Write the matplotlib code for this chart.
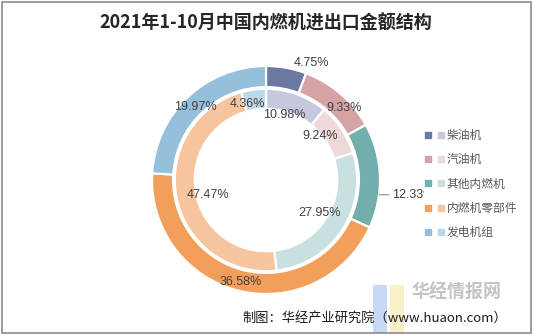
import matplotlib.pyplot as plt
from matplotlib.lines import Line2D
from matplotlib.legend_handler import HandlerTuple
from matplotlib.patches import Rectangle
import numpy as np

# data
categories = ['柴油机', '汽油机', '其他内燃机', '内燃机零部件', '发电机组']
outer_vals = [4.75, 9.33, 12.33, 36.58, 19.97]
inner_vals = [10.98, 9.24, 27.95, 47.47, 4.36]

outer_colors = ['#6c77a3', '#d6a3a5', '#72aeab', '#f19f5a', '#95c0dc']
inner_colors = ['#c6c9de', '#eed8da', '#c9e0e1', '#f6c49d', '#bcd7ea']

# label placement (radius as fraction of outer radius, angle nudge in degrees clockwise)
outer_lab_r = [1.10, 0.93, 1.11, 0.92, 0.89]
outer_lab_d = [10.7, 6.4, 8.9, 0, -1]
inner_lab_r = [0.59, 0.61, 0.55, 0.53, 0.69]
inner_lab_d = [-4.3, -5.3, -1.5, -3.7, -5.8]

W, H = 533, 335
fig = plt.figure(figsize=(W / 100, H / 100), dpi=100)
fig.patch.set_facecolor('white')

cx, cy, R = 266, 180, 114
side = 250
ax = fig.add_axes([(cx - side / 2) / W, 1 - (cy + side / 2) / H, side / W, side / H])

wedge_kw = dict(edgecolor='white', linewidth=1.6)
w_out, _ = ax.pie(outer_vals, radius=1.0, colors=outer_colors, startangle=90,
                  counterclock=False, wedgeprops=dict(width=0.185, **wedge_kw))
w_in, _ = ax.pie(inner_vals, radius=0.80, colors=inner_colors, startangle=90,
                 counterclock=False, wedgeprops=dict(width=0.175, **wedge_kw))

lim = side / 2 / R
ax.set_xlim(-lim, lim)
ax.set_ylim(-lim, lim)
ax.set_aspect('equal')
ax.axis('off')

lab_font = dict(family=['Liberation Sans', 'DejaVu Sans'], fontsize=9, color='#404040')


def polar(w, r, nudge):
    a = np.deg2rad((w.theta1 + w.theta2) / 2 - nudge)
    return r * np.cos(a), r * np.sin(a)


for i, w in enumerate(w_out):
    txt = f'{outer_vals[i]:.2f}%'
    x, y = polar(w, outer_lab_r[i], outer_lab_d[i])
    if i == 2:
        x0, y0 = polar(w, 1.0, outer_lab_d[i] + 0.7)
        ax.annotate(txt, xy=(x0, y0), xytext=(x, y), ha='left', va='center',
                    arrowprops=dict(arrowstyle='-', color='#8c8c8c', lw=0.8,
                                    shrinkA=0, shrinkB=0), **lab_font)
    else:
        ax.text(x, y, txt, ha='center', va='center', **lab_font)

for i, w in enumerate(w_in):
    x, y = polar(w, inner_lab_r[i], inner_lab_d[i])
    ax.text(x, y, f'{inner_vals[i]:.2f}%', ha='center', va='center', **lab_font)

# legend with dark + light squares
handles = [(Line2D([], [], marker='s', ls='', color=oc, ms=4.2),
            Line2D([], [], marker='s', ls='', color=ic, ms=4.2))
           for oc, ic in zip(outer_colors, inner_colors)]
leg = fig.legend(handles, categories, handler_map={tuple: HandlerTuple(ndivide=None, pad=0.9)},
                 loc='center left', bbox_to_anchor=(424 / W, 1 - 184 / H),
                 prop={'family': ['Noto Sans CJK SC', 'DejaVu Sans'], 'size': 8.5},
                 labelcolor='#595959', frameon=True, facecolor='white', edgecolor='none',
                 framealpha=1, handlelength=1.3, handletextpad=0.4, labelspacing=0.95,
                 borderpad=0.2, borderaxespad=0)

# title
fig.text(cx / W, 1 - 23 / H, '2021年1-10月中国内燃机进出口金额结构', ha='center', va='center',
         fontsize=13, fontweight='bold', color='#262626',
         family=['Noto Sans CJK SC', 'DejaVu Sans'])

# watermark + source
fig.add_artist(Rectangle((373 / W, 1 - 333 / H), 14 / W, 48 / H, transform=fig.transFigure,
                         color='#a9c6f0', alpha=0.65, lw=0))
fig.add_artist(Rectangle((390 / W, 1 - 333 / H), 14 / W, 48 / H, transform=fig.transFigure,
                         color='#f5e9a8', alpha=0.65, lw=0))
fig.text(456 / W, 1 - 292 / H, '华经情报网', ha='center', va='center', fontsize=13,
         fontweight='bold', color='#c4c4c4', family=['Noto Sans CJK SC', 'DejaVu Sans'])
fig.text(507 / W, 1 - 318 / H, '制图：华经产业研究院（www.huaon.com）', ha='right', va='center',
         fontsize=9.5, color='#1a1a1a', family=['Noto Sans CJK SC', 'DejaVu Sans'])

# frame
fig.add_artist(Rectangle((2 / W, 2 / H), (W - 4) / W, (H - 4) / H, transform=fig.transFigure,
                         fill=False, ec='#8c8c8c', lw=1.2))

fig.savefig('out.png', dpi=100)
